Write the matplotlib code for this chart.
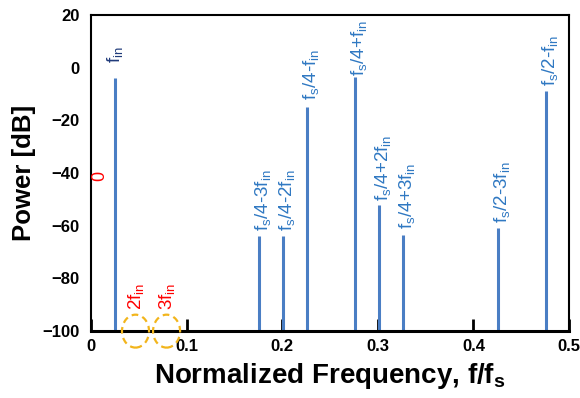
import matplotlib
matplotlib.use("Agg")
import matplotlib.pyplot as plt
from matplotlib.patches import Ellipse

plt.rcParams["font.family"] = ["Liberation Sans", "DejaVu Sans"]
plt.rcParams["mathtext.default"] = "regular"

# spur positions (normalized frequency) and power levels
freqs = [0.025, 0.176, 0.201, 0.226, 0.276, 0.301, 0.326, 0.426, 0.476]
powers = [-4, -64, -64, -15, -3.5, -52, -63.5, -61, -9]
labels = [
    r"f$_{in}$",
    r"f$_{s}$/4-3f$_{in}$",
    r"f$_{s}$/4-2f$_{in}$",
    r"f$_{s}$/4-f$_{in}$",
    r"f$_{s}$/4+f$_{in}$",
    r"f$_{s}$/4+2f$_{in}$",
    r"f$_{s}$/4+3f$_{in}$",
    r"f$_{s}$/2-3f$_{in}$",
    r"f$_{s}$/2-f$_{in}$",
]
label_gaps = [11, 4, 4, 5, 1, 3, 4, 4, 4]  # points between line top and label

# harmonics that fall below the floor (marked with circles)
harm_freqs = [0.0465, 0.079]
harm_labels = [r"2f$_{in}$", r"3f$_{in}$"]
dc_label = "0"

floor = -100
x_ticks = [0, 0.1, 0.2, 0.3, 0.4, 0.5]
y_ticks = [-100, -80, -60, -40, -20, 0, 20]

line_color = "#4a7ec4"
label_color = "#2f78c2"

fig = plt.figure(figsize=(5.8, 3.98), dpi=100)
ax = fig.add_axes([0.157, 0.168, 0.824, 0.794])

ax.vlines(freqs, floor, powers, color=line_color, lw=2.2, zorder=2)

for i, (f, p, lab) in enumerate(zip(freqs, powers, labels)):
    col = "#1f3a7a" if i == 0 else label_color
    dx = 0 if i == 0 else 3
    ax.annotate(lab, (f, p), xytext=(dx, label_gaps[i]), textcoords="offset points",
                rotation=90, ha="center", va="bottom", color=col, fontsize=13.5,
                annotation_clip=False)

ax.text(0.0095, -41, dc_label, rotation=90, color="red", fontsize=13,
        ha="center", va="center")

for f, lab in zip(harm_freqs, harm_labels):
    ax.add_patch(Ellipse((f, floor), 0.0283, 12.5, fill=False, ec="#f2b51c",
                         ls=(0, (3, 2)), lw=1.6, clip_on=False, zorder=3))
    ax.annotate(lab, (f, -92), rotation=90, ha="center", va="bottom",
                color="red", fontsize=13.5)

ax.set_xlim(0, 0.5)
ax.set_ylim(-100, 20)
ax.set_xticks(x_ticks)
ax.set_xticklabels([str(t) if t else "0" for t in x_ticks])
ax.set_yticks(y_ticks)
ax.tick_params(axis="x", direction="in", length=9, width=2, labelsize=12, pad=6)
ax.tick_params(axis="y", length=0, labelsize=12, pad=8)
for t in ax.get_xticklabels() + ax.get_yticklabels():
    t.set_fontweight("bold")

for s in ax.spines.values():
    s.set_linewidth(1.5)
ax.spines["bottom"].set_linewidth(2.2)

ax.set_xlabel("Normalized Frequency, f/f$_{s}$", fontsize=20, fontweight="bold",
              labelpad=5)
ax.set_ylabel("Power [dB]", fontsize=18.5, fontweight="bold", labelpad=5)

fig.savefig("out.png", dpi=100)
